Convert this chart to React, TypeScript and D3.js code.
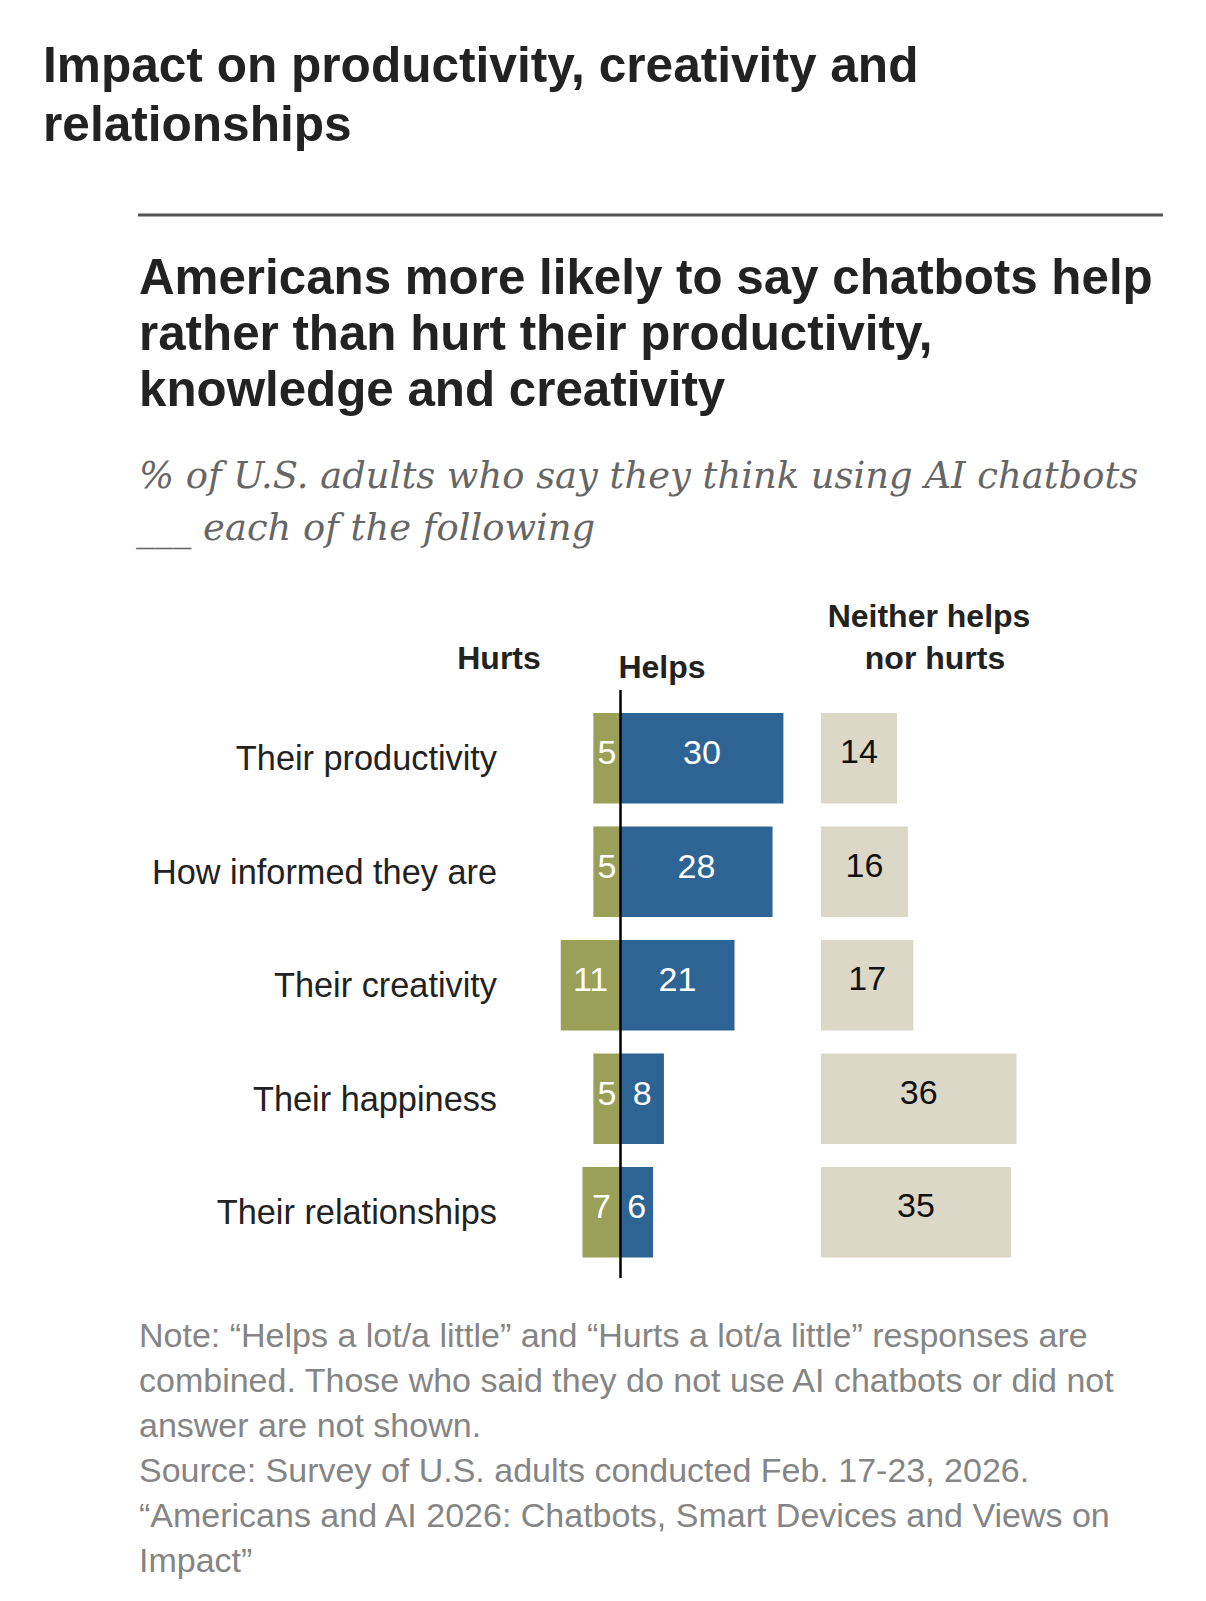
import React from 'react';
import * as d3 from 'd3';

// survey items, top to bottom
const categories = [
  'Their productivity',
  'How informed they are',
  'Their creativity',
  'Their happiness',
  'Their relationships',
];
const hurts = [5, 5, 11, 5, 7];
const helps = [30, 28, 21, 8, 6];
const neither = [14, 16, 17, 36, 35];

const titleLines = ['Impact on productivity, creativity and', 'relationships'];
const headlineLines = [
  'Americans more likely to say chatbots help',
  'rather than hurt their productivity,',
  'knowledge and creativity',
];
const subtitleLines = [
  '% of U.S. adults who say they think using AI chatbots',
  '___ each of the following',
];
const noteLines = [
  'Note: \u201cHelps a lot/a little\u201d and \u201cHurts a lot/a little\u201d responses are',
  'combined. Those who said they do not use AI chatbots or did not',
  'answer are not shown.',
  'Source: Survey of U.S. adults conducted Feb. 17-23, 2026.',
  '\u201cAmericans and AI 2026: Chatbots, Smart Devices and Views on',
  'Impact\u201d',
];

const WIDTH = 1206;
const HEIGHT = 1601;
const SANS = '"Liberation Sans", Arial, sans-serif';
const SERIF = '"DejaVu Serif", Georgia, serif';

const GREEN = '#9aa057';
const BLUE = '#2e6494';
const BEIGE = '#dbd8c8';

const App: React.FC = () => {
  const zeroX = 620.5;
  const unit = 5.43;

  // diverging scale, hurts go left of zero
  const x = d3.scaleLinear().domain([-11, 30]).range([zeroX - 11 * unit, zeroX + 30 * unit]);
  const xN = d3.scaleLinear().domain([0, 36]).range([821, 821 + 36 * unit]);
  const y = d3
    .scaleBand<string>()
    .domain(categories)
    .range([713, 1257.5])
    .paddingInner(0.2026)
    .paddingOuter(0);

  const bw = y.bandwidth();

  return (
    <svg
      width={WIDTH}
      height={HEIGHT}
      style={{ position: 'absolute', left: 0, top: 0, background: '#fff' }}
    >
      <rect x={0} y={0} width={WIDTH} height={HEIGHT} fill="#fff" />

      {titleLines.map((t, i) => (
        <text key={t} x={43} y={82 + i * 59} fontFamily={SANS} fontWeight="bold" fontSize={49.6} fill="#222">
          {t}
        </text>
      ))}

      <line x1={138} x2={1163} y1={215} y2={215} stroke="#555" strokeWidth={3} />

      {headlineLines.map((t, i) => (
        <text key={t} x={139} y={294 + i * 56} fontFamily={SANS} fontWeight="bold" fontSize={49.3} fill="#222">
          {t}
        </text>
      ))}

      {subtitleLines.map((t, i) => (
        <text
          key={t}
          x={i === 0 ? 139 : 136}
          y={488 + i * 52}
          fontFamily={SERIF}
          fontStyle="italic"
          fontSize={36.9}
          fill="#666"
        >
          {t}
        </text>
      ))}

      {/* column headers */}
      <g fontFamily={SANS} fontWeight="bold" fontSize={32} fill="#222" textAnchor="middle">
        <text x={499} y={669}>Hurts</text>
        <text x={662} y={678}>Helps</text>
        <text x={929} y={627}>Neither helps</text>
        <text x={935} y={669}>nor hurts</text>
      </g>

      {categories.map((c, i) => {
        const top = y(c) as number;
        const mid = top + bw / 2;
        return (
          <g key={c}>
            <text x={497} y={mid + 12} textAnchor="end" fontFamily={SANS} fontSize={34.3} fill="#222">
              {c}
            </text>
            <rect x={x(-hurts[i])} y={top} width={x(0) - x(-hurts[i])} height={bw} fill={GREEN} />
            <rect x={x(0)} y={top} width={x(helps[i]) - x(0)} height={bw} fill={BLUE} />
            <rect x={xN(0)} y={top} width={xN(neither[i]) - xN(0)} height={bw} fill={BEIGE} />
            <g fontFamily={SANS} fontSize={34} textAnchor="middle">
              <text x={(x(-hurts[i]) + x(0)) / 2} y={mid + 6} fill="#fff">
                {hurts[i]}
              </text>
              <text x={(x(0) + x(helps[i])) / 2} y={mid + 6} fill="#fff">
                {helps[i]}
              </text>
              <text x={(xN(0) + xN(neither[i])) / 2} y={mid + 5} fill="#111">
                {neither[i]}
              </text>
            </g>
          </g>
        );
      })}

      <line x1={x(0)} x2={x(0)} y1={690} y2={1278} stroke="#000" strokeWidth={2.5} />

      {noteLines.map((t, i) => (
        <text key={t} x={139} y={1347 + i * 45} fontFamily={SANS} fontSize={34} fill="#858585">
          {t}
        </text>
      ))}
    </svg>
  );
};

export default App;
